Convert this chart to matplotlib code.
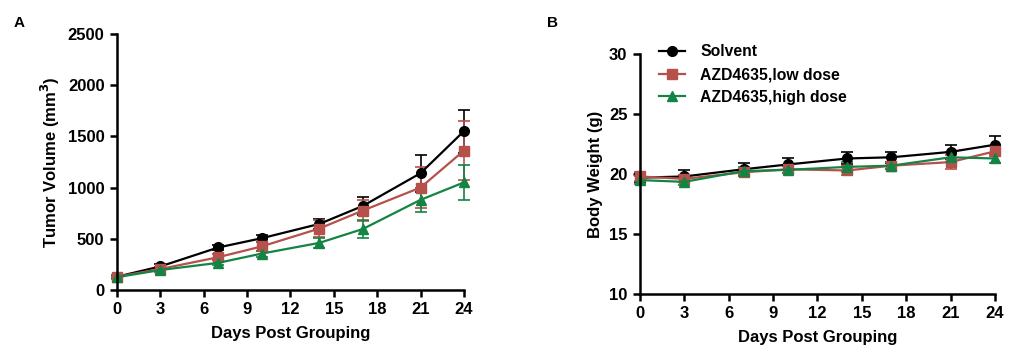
import matplotlib
matplotlib.use('Agg')
import matplotlib.pyplot as plt
from matplotlib.lines import Line2D

plt.rcParams['font.family'] = ['Liberation Sans', 'DejaVu Sans']
plt.rcParams['font.weight'] = 'bold'

days = [0, 3, 7, 10, 14, 17, 21, 24]
groups = ['Solvent', 'AZD4635,low dose', 'AZD4635,high dose']
colors = ['#000000', '#B5504B', '#138443']
markers = ['o', 's', '^']

# tumor volume (mm3), mean and error
tv_solvent = [130, 230, 415, 505, 645, 820, 1140, 1550]
tv_solvent_err = [15, 20, 25, 35, 45, 90, 180, 210]
tv_low = [130, 205, 320, 425, 600, 775, 1000, 1360]
tv_low_err = [15, 20, 30, 40, 80, 105, 200, 290]
tv_high = [125, 195, 265, 355, 460, 595, 880, 1050]
tv_high_err = [15, 20, 25, 30, 50, 85, 120, 175]

# body weight (g), mean and error
bw_solvent = [19.7, 19.8, 20.4, 20.8, 21.3, 21.4, 21.85, 22.45]
bw_solvent_err = [0.4, 0.5, 0.55, 0.5, 0.5, 0.45, 0.6, 0.7]
bw_low = [19.8, 19.6, 20.15, 20.4, 20.3, 20.7, 21.0, 21.9]
bw_low_err = [0.4, 0.3, 0.3, 0.3, 0.4, 0.3, 0.6, 0.4]
bw_high = [19.5, 19.35, 20.25, 20.35, 20.6, 20.7, 21.4, 21.3]
bw_high_err = [0.3, 0.3, 0.3, 0.3, 0.4, 0.3, 0.4, 0.4]

tv = [(tv_solvent, tv_solvent_err), (tv_low, tv_low_err), (tv_high, tv_high_err)]
bw = [(bw_solvent, bw_solvent_err), (bw_low, bw_low_err), (bw_high, bw_high_err)]

fig = plt.figure(figsize=(10.15, 3.61), dpi=100)
axA = fig.add_axes([0.1153, 0.1967, 0.3417, 0.7093])
axB = fig.add_axes([0.6305, 0.1856, 0.3498, 0.6644])


def draw(ax, data):
    for (y, e), c, m in zip(data, colors, markers):
        ax.errorbar(days, y, yerr=e, color=c, marker=m, markersize=7, linewidth=1.6,
                    elinewidth=1.2, capsize=4, capthick=1.2, clip_on=False)
    ax.set_xlim(0, 24)
    ax.set_xticks(range(0, 25, 3))
    for s in ['top', 'right']:
        ax.spines[s].set_visible(False)
    for s in ['left', 'bottom']:
        ax.spines[s].set_linewidth(1.8)
    ax.tick_params(width=1.8, length=5, labelsize=12, pad=4)
    ax.set_xlabel('Days Post Grouping', fontsize=12, fontweight='bold', labelpad=6)


draw(axA, tv)
axA.set_ylim(0, 2500)
axA.set_yticks(range(0, 2501, 500))
axA.set_ylabel('Tumor Volume (mm$^\\mathbf{3}$)', fontsize=12, fontweight='bold', labelpad=4)

draw(axB, bw)
axB.set_ylim(10, 30)
axB.set_yticks(range(10, 31, 5))
axB.set_ylabel('Body Weight (g)', fontsize=12, fontweight='bold')

handles = [Line2D([], [], color=c, marker=m, markersize=7, linewidth=1.6)
           for c, m in zip(colors, markers)]
axB.legend(handles, groups, loc='upper left', bbox_to_anchor=(0.015, 1.1), frameon=False,
           fontsize=11.3, handlelength=1.6, handletextpad=1.0, labelspacing=0.5)

fig.text(0.013, 0.925, 'A', fontsize=11, fontweight='bold')
fig.text(0.539, 0.925, 'B', fontsize=11, fontweight='bold')

fig.savefig('out.png', dpi=100)
